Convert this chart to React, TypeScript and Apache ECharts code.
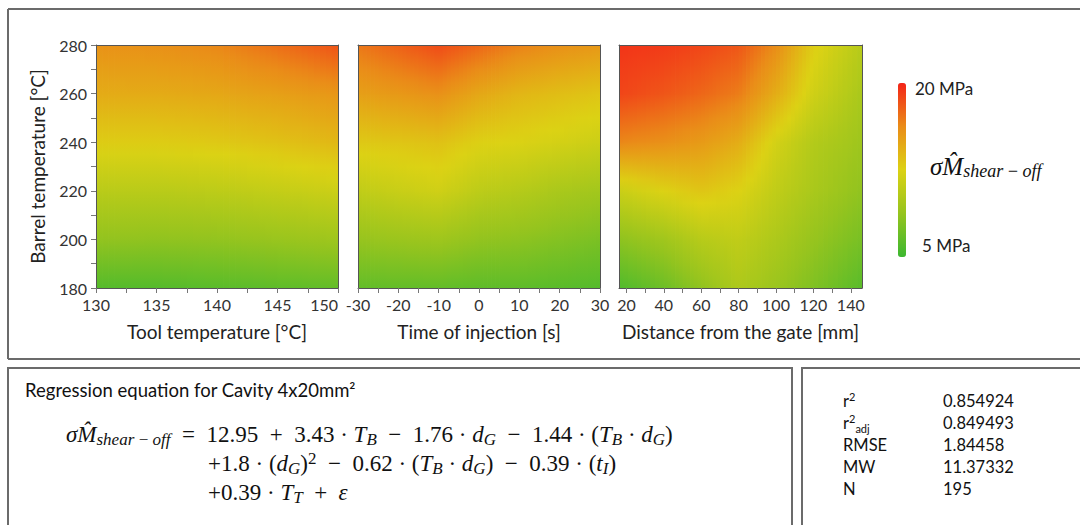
import React, { useEffect, useRef } from 'react';
import * as echarts from 'echarts';

// ---------- data ----------
const barrelTemps = [180, 200, 220, 240, 260, 280];
const toolTemps = [130, 135, 140, 145, 150];
const injectionTimes = [-30, -20, -10, 0, 10, 20, 30];
const gateDistances = [16, 40, 60, 80, 100, 120, 146];

// rows follow barrelTemps (180 -> 280), columns follow the x-variable
const shearByToolTemp = [
  [6.0, 6.0, 6.2, 6.4, 6.6],
  [8.6, 8.5, 8.6, 8.9, 9.2],
  [10.6, 10.6, 10.8, 11.2, 11.6],
  [12.8, 12.8, 13.0, 13.4, 13.9],
  [14.6, 14.6, 14.8, 15.2, 15.7],
  [15.9, 16.0, 16.4, 17.3, 18.3],
];
const shearByInjection = [
  [6.6, 6.6, 6.6, 6.4, 6.4, 6.2, 6.0],
  [8.8, 9.0, 9.2, 8.6, 8.4, 8.0, 7.6],
  [11.0, 11.4, 11.8, 10.8, 10.4, 9.8, 9.4],
  [13.0, 13.2, 13.4, 12.6, 12.4, 12.0, 11.6],
  [15.2, 15.6, 16.0, 14.8, 14.0, 13.6, 13.2],
  [17.0, 17.8, 18.6, 17.6, 16.6, 16.0, 15.6],
];
const shearByGateDistance = [
  [5.8, 7.0, 8.5, 10.0, 9.0, 7.8, 6.2],
  [8.4, 9.3, 10.5, 11.0, 10.0, 8.8, 7.5],
  [11.5, 12.5, 13.2, 12.5, 11.0, 9.8, 8.5],
  [16.4, 16.0, 15.5, 14.5, 12.0, 10.3, 9.2],
  [18.8, 18.2, 17.6, 16.8, 14.5, 11.8, 9.8],
  [19.4, 19.2, 18.8, 18.2, 16.2, 12.8, 10.5],
];

const toolTicks = [130, 132.5, 135, 137.5, 140, 142.5, 145, 147.5, 150];
const toolLabels = [130, 135, 140, 145, 150];
const injectionTicks = [-30, -25, -20, -15, -10, -5, 0, 5, 10, 15, 20, 25, 30];
const injectionLabels = [-30, -20, -10, 0, 10, 20, 30];
const gateTicks = [20, 30, 40, 50, 60, 70, 80, 90, 100, 110, 120, 130, 140];
const gateLabels = [20, 40, 60, 80, 100, 120, 140];
const barrelTicks = [180, 190, 200, 210, 220, 230, 240, 250, 260, 270, 280];
const barrelLabels = [180, 200, 220, 240, 260, 280];

const scaleMin = 5;
const scaleMax = 20;
const scaleColors = ['#3cb830', '#96c41e', '#dcd214', '#ea8c18', '#f42418'];
const scaleTopLabel = '20 MPa';
const scaleBottomLabel = '5 MPa';

const statNames = ['r{sp|2}', 'r{sp|2}{sb|adj}', 'RMSE', 'MW', 'N'];
const statValues = ['0.854924', '0.849493', '1.84458', '11.37332', '195'];

// ---------- helpers ----------
const SANS = 'Lato, "Open Sans", sans-serif';
const SERIF = '"Liberation Serif", "DejaVu Serif", serif';

const rgbStops = scaleColors.map((h) => [
  parseInt(h.slice(1, 3), 16),
  parseInt(h.slice(3, 5), 16),
  parseInt(h.slice(5, 7), 16),
]);

function colorOf(v: number): string {
  const n = rgbStops.length - 1;
  const t = Math.max(0, Math.min(1, (v - scaleMin) / (scaleMax - scaleMin))) * n;
  const i = Math.min(Math.floor(t), n - 1);
  const f = t - i;
  const a = rgbStops[i];
  const b = rgbStops[i + 1];
  return `rgb(${Math.round(a[0] + (b[0] - a[0]) * f)},${Math.round(a[1] + (b[1] - a[1]) * f)},${Math.round(
    a[2] + (b[2] - a[2]) * f
  )})`;
}

function buildCells(xs: number[], ys: number[], grid: number[][]) {
  const cells: number[][] = [];
  for (let j = 0; j < ys.length - 1; j++) {
    for (let i = 0; i < xs.length - 1; i++) {
      cells.push([xs[i], ys[j], xs[i + 1], ys[j + 1], grid[j][i], grid[j][i + 1], grid[j + 1][i], grid[j + 1][i + 1]]);
    }
  }
  return cells;
}

const STRIPS = 10;
function renderCell(_params: any, api: any) {
  const x0 = api.value(0), y0 = api.value(1), x1 = api.value(2), y1 = api.value(3);
  const vbl = api.value(4), vbr = api.value(5), vtl = api.value(6), vtr = api.value(7);
  const pBL = api.coord([x0, y0]);
  const pTR = api.coord([x1, y1]);
  const w = pTR[0] - pBL[0];
  const top = pTR[1];
  const h = pBL[1] - pTR[1];
  const children: any[] = [];
  for (let k = 0; k < STRIPS; k++) {
    const tm = (k + 0.5) / STRIPS;
    const vb = vbl + (vbr - vbl) * tm;
    const vt = vtl + (vtr - vtl) * tm;
    const stops: any[] = [];
    for (let s = 0; s <= 4; s++) {
      const o = s / 4;
      stops.push({ offset: o, color: colorOf(vt + (vb - vt) * o) });
    }
    children.push({
      type: 'rect',
      shape: { x: pBL[0] + (w * k) / STRIPS, y: top, width: w / STRIPS + 0.8, height: h + 0.8 },
      style: { fill: new echarts.graphic.LinearGradient(0, 0, 0, 1, stops) },
    });
  }
  return { type: 'group', children };
}

const axisLineStyle = { color: '#555', width: 1 };
const tickFont = { color: '#333', fontSize: 16, fontFamily: SANS };
const nameFont = { color: '#222', fontSize: 19, fontFamily: SANS };

function bottomAxis(
  gridIndex: number, min: number, max: number, ticks: number[], labels: number[], name: string, alignMax?: string
) {
  return {
    type: 'value',
    gridIndex,
    min,
    max,
    position: 'bottom',
    z: 10,
    axisLine: { show: true, onZero: false, lineStyle: axisLineStyle },
    axisTick: { show: true, length: 5, lineStyle: { color: '#777' }, customValues: ticks },
    axisLabel: { customValues: labels, ...tickFont, margin: 8, alignMaxLabel: alignMax },
    splitLine: { show: false },
    name,
    nameLocation: 'middle',
    nameGap: 34,
    nameTextStyle: nameFont,
  };
}
function topAxis(gridIndex: number, min: number, max: number) {
  return {
    type: 'value', gridIndex, min, max, position: 'top', z: 10,
    axisLine: { show: true, onZero: false, lineStyle: axisLineStyle },
    axisTick: { show: false }, axisLabel: { show: false }, splitLine: { show: false },
  };
}
function leftAxis(gridIndex: number, withLabels: boolean) {
  return {
    type: 'value', gridIndex, min: 180, max: 280, position: 'left', z: 10,
    axisLine: { show: true, onZero: false, lineStyle: axisLineStyle },
    axisTick: { show: withLabels, length: 5, lineStyle: { color: '#777' }, customValues: barrelTicks },
    axisLabel: { show: withLabels, customValues: barrelLabels, ...tickFont, margin: 9 },
    splitLine: { show: false },
    name: withLabels ? 'Barrel temperature [°C]' : '',
    nameLocation: 'middle',
    nameGap: 49,
    nameTextStyle: nameFont,
  };
}
function rightAxis(gridIndex: number) {
  return {
    type: 'value', gridIndex, min: 180, max: 280, position: 'right', z: 10,
    axisLine: { show: true, onZero: false, lineStyle: axisLineStyle },
    axisTick: { show: false }, axisLabel: { show: false }, splitLine: { show: false },
  };
}

function mathRich(size: number) {
  const sub = Math.round(size * 0.72);
  const lh = Math.round(size * 1.1);
  return {
    i: { fontStyle: 'italic', fontFamily: SERIF, fontSize: size, fill: '#111', lineHeight: lh },
    s: { fontStyle: 'italic', fontFamily: SERIF, fontSize: sub, fill: '#111', lineHeight: lh, padding: [10, 0, 0, 0] },
    p: { fontFamily: SERIF, fontSize: sub, fill: '#111', lineHeight: lh, padding: [0, 0, 10, 0] },
  };
}

function mathText(x: number, y: number, text: string, size: number) {
  return {
    type: 'text',
    x,
    y,
    style: {
      text, fontFamily: SERIF, fontSize: size, fill: '#111', verticalAlign: 'middle',
      lineHeight: Math.round(size * 1.1), rich: mathRich(size),
    },
  };
}

const borderStyle = { stroke: '#6b6b6b', lineWidth: 2, fill: 'none' };
const TS = '\u2009';
const EN = '\u2002';

export default function App() {
  const ref = useRef<HTMLDivElement>(null);
  useEffect(() => {
    if (!ref.current) return;
    const chart = echarts.init(ref.current, undefined, { renderer: 'svg' });
    const graphic: any[] = [
      { type: 'line', shape: { x1: 8, y1: 9, x2: 1080, y2: 9 }, style: borderStyle },
      { type: 'line', shape: { x1: 8, y1: 9, x2: 8, y2: 359 }, style: borderStyle },
      { type: 'line', shape: { x1: 8, y1: 359, x2: 1080, y2: 359 }, style: borderStyle },
      { type: 'polyline', shape: { points: [[8, 526], [8, 368], [792, 368], [792, 526]] }, style: borderStyle },
      { type: 'polyline', shape: { points: [[802, 526], [802, 368], [1082, 368]] }, style: borderStyle },
      {
        type: 'text', x: 915, y: 88,
        style: { text: scaleTopLabel, fontFamily: SANS, fontSize: 17, fill: '#222', verticalAlign: 'middle' },
      },
      {
        type: 'text', x: 922, y: 245,
        style: { text: scaleBottomLabel, fontFamily: SANS, fontSize: 17, fill: '#222', verticalAlign: 'middle' },
      },
      mathText(930, 166, `{i|σM̂}{s|shear${TS}−${TS}off}`, 25),
      {
        type: 'text', x: 25, y: 390,
        style: { text: 'Regression equation for Cavity 4x20mm²', fontFamily: SANS, fontSize: 18.5, fill: '#111', verticalAlign: 'middle' },
      },
      mathText(
        66, 434,
        `{i|σM̂}{s|shear${TS}−${TS}off}${EN}=${EN}12.95${EN}+${EN}3.43 · {i|T}{s|B}${EN}−${EN}1.76 · {i|d}{s|G}${EN}−${EN}1.44 · ({i|T}{s|B} · {i|d}{s|G})`,
        23
      ),
      mathText(
        208, 463,
        `+1.8 · ({i|d}{s|G}){p|2}${EN}−${EN}0.62 · ({i|T}{s|B} · {i|d}{s|G})${EN}−${EN}0.39 · ({i|t}{s|I})`,
        23
      ),
      mathText(208, 492, `+0.39 · {i|T}{s|T}${EN}+${EN}{i|ε}`, 23),
    ];
    statNames.forEach((n, k) => {
      graphic.push({
        type: 'text', x: 843, y: 401 + k * 22,
        style: {
          text: n, fontFamily: SANS, fontSize: 16.5, fill: '#111', verticalAlign: 'middle', lineHeight: 20,
          rich: {
            sp: { fontFamily: SANS, fontSize: 11, fill: '#111', lineHeight: 20, padding: [0, 0, 10, 0] },
            sb: { fontFamily: SANS, fontSize: 11, fill: '#111', lineHeight: 20, padding: [10, 0, 0, 0] },
          },
        },
      });
      graphic.push({
        type: 'text', x: 943, y: 401 + k * 22,
        style: { text: statValues[k], fontFamily: SANS, fontSize: 16.5, fill: '#111', verticalAlign: 'middle' },
      });
    });

    const option: any = {
      animation: false,
      backgroundColor: '#fff',
      textStyle: { fontFamily: SANS },
      grid: [
        { left: 96, top: 45, width: 242, height: 243 },
        { left: 358, top: 45, width: 242, height: 243 },
        { left: 619, top: 45, width: 243, height: 243 },
      ],
      xAxis: [
        bottomAxis(0, 130, 150, toolTicks, toolLabels, 'Tool temperature [°C]', 'right'),
        bottomAxis(1, -30, 30, injectionTicks, injectionLabels, 'Time of injection [s]'),
        bottomAxis(2, 16, 146, gateTicks, gateLabels, 'Distance from the gate [mm]'),
        topAxis(0, 130, 150),
        topAxis(1, -30, 30),
        topAxis(2, 16, 146),
      ],
      yAxis: [leftAxis(0, true), leftAxis(1, false), leftAxis(2, false), rightAxis(0), rightAxis(1), rightAxis(2)],
      visualMap: {
        type: 'continuous',
        min: scaleMin,
        max: scaleMax,
        seriesIndex: [],
        calculable: false,
        orient: 'vertical',
        left: 898,
        top: 83,
        itemWidth: 8,
        itemHeight: 174,
        padding: 0,
        text: null,
        inRange: { color: scaleColors },
      },
      series: [
        { type: 'custom', xAxisIndex: 0, yAxisIndex: 0, clip: true, renderItem: renderCell, data: buildCells(toolTemps, barrelTemps, shearByToolTemp) },
        { type: 'custom', xAxisIndex: 1, yAxisIndex: 1, clip: true, renderItem: renderCell, data: buildCells(injectionTimes, barrelTemps, shearByInjection) },
        { type: 'custom', xAxisIndex: 2, yAxisIndex: 2, clip: true, renderItem: renderCell, data: buildCells(gateDistances, barrelTemps, shearByGateDistance) },
      ],
      graphic,
    };
    chart.setOption(option);
    return () => chart.dispose();
  }, []);
  return <div ref={ref} style={{ position: 'fixed', left: 0, top: 0, width: 1080, height: 525, background: '#fff' }} />;
}
